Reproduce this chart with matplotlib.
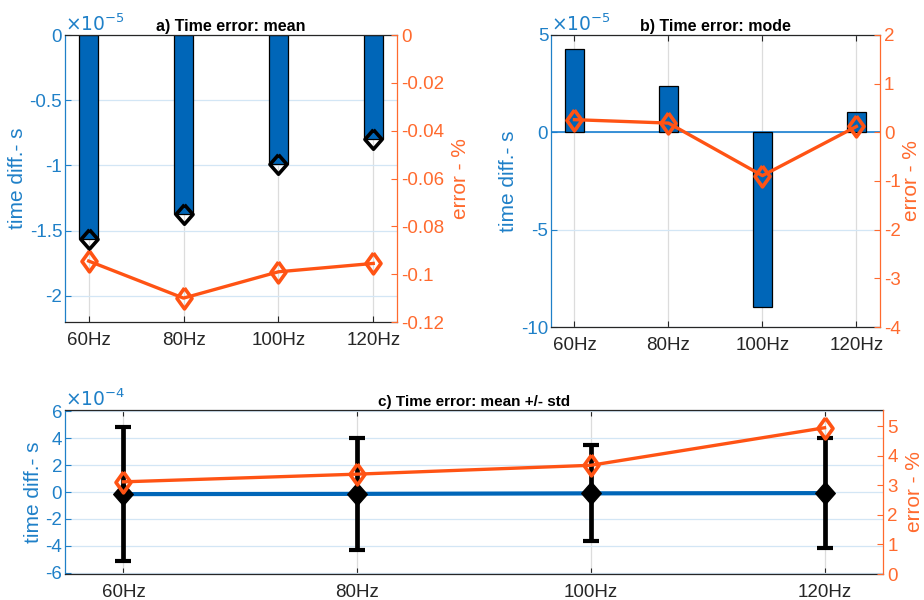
import numpy as np
import matplotlib
matplotlib.use('Agg')
import matplotlib.pyplot as plt
from matplotlib.ticker import FuncFormatter, FixedLocator

plt.rcParams['font.family'] = ['Liberation Sans', 'DejaVu Sans']
plt.rcParams['axes.unicode_minus'] = False

# ---------------- data ----------------
freqs = ['60Hz', '80Hz', '100Hz', '120Hz']
mean_time_s = [-1.56e-5, -1.37e-5, -0.985e-5, -0.80e-5]
mean_err_pct = [-0.0945, -0.110, -0.099, -0.0955]
mode_time_s = [4.3e-5, 2.4e-5, -8.95e-5, 1.05e-5]
mode_err_pct = [0.26, 0.19, -0.89, 0.12]
std_time_s = [4.98e-4, 4.15e-4, 3.57e-4, 4.07e-4]
std_err_pct = [3.12, 3.38, 3.68, 4.95]

titles = ['a) Time error: mean', 'b) Time error: mode', 'c) Time error: mean +/- std']

# ---------------- style ----------------
BLUE_BAR = '#0066B8'
BLUE_AX = '#1F80C8'
ORANGE = '#FF5314'
ORANGE_AX = '#FF6A2E'
GRID_BLUE = '#D3E6F5'
GRID_GREY = '#DCDCDC'
DARK = '#262626'
FS = 13.5
LFS = 15

# diamond marker (MATLAB-like proportions)
DIAM = [(0, 1), (0.72, 0), (0, -1), (-0.72, 0), (0, 1)]
DIAM_B = [(0, 1), (0.88, 0), (0, -1), (-0.88, 0), (0, 1)]

x = np.arange(1, len(freqs) + 1)

fig = plt.figure(figsize=(9.24, 6.0), dpi=100)


def sci_fmt(exp):
    def f(v, p):
        s = round(v / 10 ** exp, 6)
        return f"{s:g}"
    return FuncFormatter(f)


def style(ax, ax2, yticks, exp, rticks, rfmt=None, rpad=5):
    ax.set_xlim(0.75, 4.25)
    ax.set_xticks(x)
    ax.set_xticklabels(freqs, fontsize=FS, color=DARK)
    ax.yaxis.set_major_locator(FixedLocator(yticks))
    ax.yaxis.set_major_formatter(sci_fmt(exp))
    ax.tick_params(axis='y', colors=BLUE_AX, labelsize=FS, direction='in', length=4, width=0.8, pad=2)
    ax.tick_params(axis='x', direction='in', length=4, width=0.8, colors=DARK, labelcolor=DARK,
                   top=True, pad=7)
    ax.grid(axis='y', color=GRID_BLUE, lw=0.9)
    ax.grid(axis='x', color=GRID_GREY, lw=0.9)
    ax.set_axisbelow(True)
    ax.spines['left'].set_color(BLUE_AX)
    ax.spines['right'].set_visible(False)
    ax.spines['top'].set_color(DARK)
    ax.spines['bottom'].set_color(DARK)
    for s in ax.spines.values():
        s.set_linewidth(0.9)
    ax.set_ylabel('time diff.- s', color=BLUE_AX, fontsize=LFS, labelpad=2)
    ax.text(0.0, 1.0, r'$\times10^{%d}$' % exp, transform=ax.transAxes, color=BLUE_AX,
            fontsize=FS, ha='left', va='bottom')
    ax2.yaxis.set_major_locator(FixedLocator(rticks))
    if rfmt is not None:
        ax2.yaxis.set_major_formatter(rfmt)
    ax2.tick_params(axis='y', colors=ORANGE_AX, labelsize=FS, direction='in', length=4, width=0.8, pad=3)
    ax2.spines['right'].set_color(ORANGE_AX)
    ax2.spines['right'].set_linewidth(0.9)
    for k in ['left', 'top', 'bottom']:
        ax2.spines[k].set_visible(False)
    ax2.set_ylabel('error - %', color=ORANGE_AX, fontsize=LFS, labelpad=rpad)


# ---------------- panel a ----------------
axa = fig.add_axes([0.0703, 0.4633, 0.3593, 0.4783])
axa.bar(x, mean_time_s, width=0.2, color=BLUE_BAR, edgecolor='black', lw=0.9, zorder=2)
axa.plot(x, mean_time_s, ls='none', marker=DIAM_B, ms=14, mfc='none', mec='black', mew=2.6, zorder=3)
axa.set_ylim(-2.2e-5, 0)
axa2 = axa.twinx()
axa2.plot(x, mean_err_pct, color=ORANGE, lw=2.4, marker=DIAM, ms=15, mfc='none', mec=ORANGE, mew=2.6)
axa2.set_ylim(-0.12, 0)
style(axa, axa2, [0, -0.5e-5, -1e-5, -1.5e-5, -2e-5], -5,
      [0, -0.02, -0.04, -0.06, -0.08, -0.1, -0.12],
      FuncFormatter(lambda v, p: f"{round(v, 6):g}"))
axa.set_title(titles[0], fontsize=11.5, fontweight='bold', pad=3)

# ---------------- panel b ----------------
axb = fig.add_axes([0.5963, 0.455, 0.356, 0.4867])
axb.bar(x, mode_time_s, width=0.2, color=BLUE_BAR, edgecolor='black', lw=0.9, zorder=2)
axb.axhline(0, color='#1A7FD0', lw=1.2, zorder=1.5)
axb.set_ylim(-10e-5, 5e-5)
axb2 = axb.twinx()
axb2.plot(x, mode_err_pct, color=ORANGE, lw=2.4, marker=DIAM, ms=15, mfc='none', mec=ORANGE, mew=2.6)
axb2.set_ylim(-4, 2)
style(axb, axb2, [5e-5, 0, -5e-5, -10e-5], -5, [2, 1, 0, -1, -2, -3, -4],
      FuncFormatter(lambda v, p: f"{round(v, 6):g}"), rpad=1)
axb.set_title(titles[1], fontsize=11.5, fontweight='bold', pad=3)

# ---------------- panel c ----------------
axc = fig.add_axes([0.0703, 0.0433, 0.8853, 0.2733])
axc.errorbar(x, mean_time_s, yerr=std_time_s, fmt='none', ecolor='black', elinewidth=3.4,
             capsize=5.5, capthick=3, zorder=2)
axc.plot(x, mean_time_s, color=BLUE_BAR, lw=3, zorder=3)
axc.plot(x, mean_time_s, ls='none', marker=DIAM_B, ms=16, mfc='black', mec='black', zorder=4)
axc.set_ylim(-6.1e-4, 6.1e-4)
axc2 = axc.twinx()
axc2.plot(x, std_err_pct, color=ORANGE, lw=2.4, marker=DIAM, ms=15, mfc='none', mec=ORANGE, mew=2.6)
axc2.set_ylim(0, 5.55)
style(axc, axc2, [6e-4, 4e-4, 2e-4, 0, -2e-4, -4e-4, -6e-4], -4, [0, 1, 2, 3, 4, 5],
      FuncFormatter(lambda v, p: f"{round(v, 6):g}"))
axc.set_title(titles[2], fontsize=11, fontweight='bold', pad=3)

fig.savefig('out.png', dpi=100)
